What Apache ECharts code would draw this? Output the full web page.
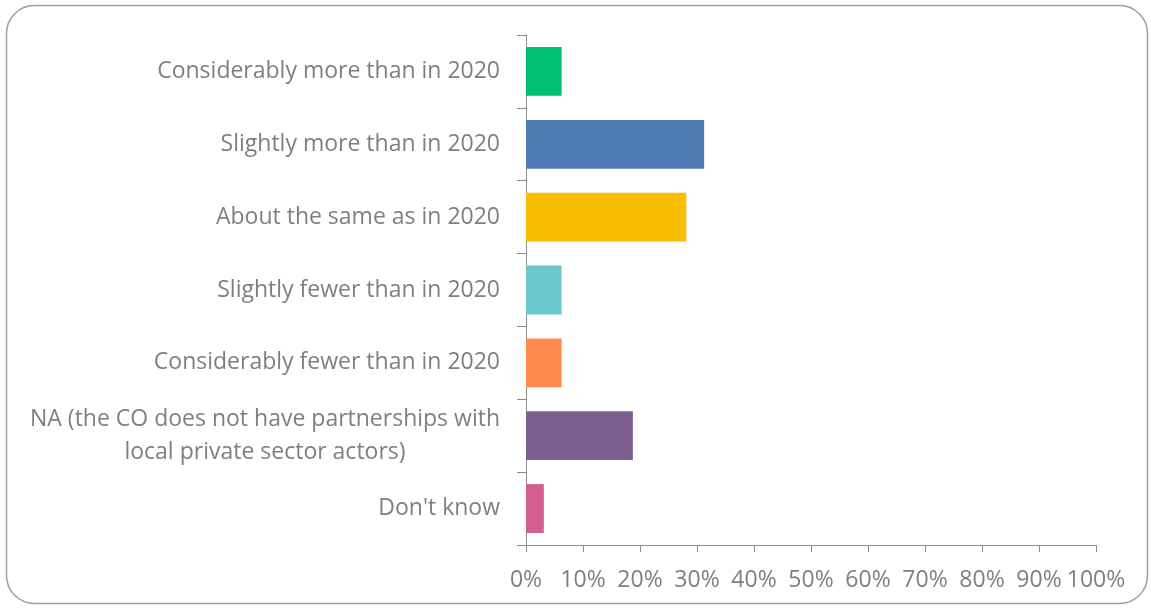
<!DOCTYPE html>
<html>
<head>
<meta charset="utf-8">
<script src="https://cdn.jsdelivr.net/npm/echarts@6/dist/echarts.min.js"></script>
<style>
  html, body { margin: 0; padding: 0; background: #ffffff; }
  #chart { width: 1151px; height: 608px; }
</style>
</head>
<body>
<div id="chart"></div>
<script>
// Responses, top to bottom
const categories = [
  'Considerably more than in 2020',
  'Slightly more than in 2020',
  'About the same as in 2020',
  'Slightly fewer than in 2020',
  'Considerably fewer than in 2020',
  'NA (the CO does not have partnerships with\nlocal private sector actors)',
  "Don't know"
];
// Share of respondents (%)
const values = [6.25, 31.25, 28.125, 6.25, 6.25, 18.75, 3.125];
const barColors = ['#00BF6F', '#507CB6', '#F9BE00', '#6BC8CD', '#FF8B4F', '#7D5E90', '#D25F90'];

const FONT = '"Open Sans", sans-serif';
const TEXT = '#7f7f7f';
const AXIS = '#8c8c8c';
const LABEL_SIZE = 23;

// width of a line of label text, so multi-line labels can be centred within the longest line
function lineWidth(text) {
  const c = document.createElement('canvas').getContext('2d');
  c.font = LABEL_SIZE + 'px ' + FONT;
  return Math.ceil(c.measureText(text).width);
}

const chart = echarts.init(document.getElementById('chart'), null, { renderer: 'canvas' });

chart.setOption({
  backgroundColor: '#ffffff',
  animation: false,
  graphic: [{
    type: 'rect',
    shape: { x: 6.5, y: 5.5, width: 1141, height: 598, r: 28 },
    style: { fill: 'none', stroke: '#9e9e9e', lineWidth: 1.5 },
    silent: true,
    z: -1
  }],
  grid: { left: 526, right: 55, top: 35, bottom: 63, containLabel: false },
  xAxis: {
    type: 'value',
    min: 0, max: 100, interval: 10,
    axisLine: { show: true, lineStyle: { color: AXIS, width: 1 } },
    axisTick: { show: true, length: 7, lineStyle: { color: AXIS } },
    splitLine: { show: false },
    axisLabel: {
      formatter: '{value}%',
      color: TEXT, fontFamily: FONT, fontSize: LABEL_SIZE, margin: 24
    }
  },
  yAxis: {
    type: 'category',
    inverse: true,
    data: categories,
    axisLine: { show: true, lineStyle: { color: AXIS, width: 1 } },
    axisTick: { show: true, length: 9, alignWithLabel: false, lineStyle: { color: AXIS } },
    axisLabel: {
      color: TEXT, fontFamily: FONT, fontSize: LABEL_SIZE, margin: 26,
      align: 'right',
      formatter: function (v) {
        if (v.indexOf('\n') < 0) return v;
        return v.split('\n').map(l => '{c|' + l + '}').join('\n');
      },
      rich: {
        c: {
          color: TEXT, fontFamily: FONT, fontSize: LABEL_SIZE,
          lineHeight: 33, align: 'center',
          width: lineWidth('NA (the CO does not have partnerships with')
        }
      }
    }
  },
  series: [{
    type: 'bar',
    data: values.map((v, i) => ({ value: v, itemStyle: { color: barColors[i] } })),
    barCategoryGap: '33%',
    label: { show: false }
  }]
});
</script>
</body>
</html>
